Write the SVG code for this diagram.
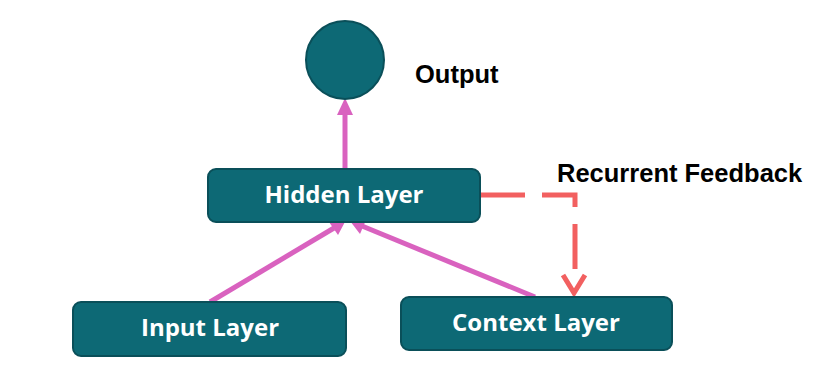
<svg xmlns="http://www.w3.org/2000/svg" width="824" height="375" viewBox="0 0 824 375">
  <defs>
    <style>
      .node { fill: #0d6975; stroke: #0a4f59; stroke-width: 2; }
      .ntext { font-family: "Open Sans", "Lato", sans-serif; font-weight: bold; font-size: 24px; fill: #ffffff; text-anchor: middle; }
      .label { font-family: "Liberation Sans", Arial, sans-serif; font-weight: bold; font-size: 25.5px; fill: #000000; }
      .pink { stroke: #d962bf; stroke-width: 5; fill: none; }
      .red { stroke: #f26060; stroke-width: 5; fill: none; }
    </style>
  </defs>
  <rect width="824" height="375" fill="#ffffff"/>

  <g id="connectors">
    <line class="pink" x1="345" y1="169" x2="345" y2="112"/>
    <path d="M345,98 L353,115 L337,115 Z" fill="#d962bf"/>
    <line class="pink" x1="210" y1="302" x2="334" y2="228"/>
    <path d="M346,220 L338,235 L329,222 Z" fill="#d962bf"/>
    <line class="pink" x1="535" y1="297" x2="362" y2="226"/>
    <path d="M350,221 L366,220 L360,234 Z" fill="#d962bf"/>
    <path class="red" d="M480,195 H575 V270" stroke-dasharray="45 17"/>
    <path class="red" d="M563,275 L574,293 L585,275" stroke-width="6" stroke-linejoin="miter"/>
  </g>

  <g id="output">
    <circle class="node" cx="345" cy="60" r="39"/>
  </g>
  <g id="output-label">
    <text class="label" x="415" y="83">Output</text>
  </g>
  <g id="hidden">
    <rect class="node" x="208" y="169" width="272" height="53" rx="8"/>
    <text class="ntext" x="344" y="203">Hidden Layer</text>
  </g>
  <g id="input">
    <rect class="node" x="73" y="302" width="273" height="54" rx="8"/>
    <text class="ntext" x="210" y="336">Input Layer</text>
  </g>
  <g id="context">
    <rect class="node" x="401" y="297" width="271" height="53" rx="8"/>
    <text class="ntext" x="536" y="331">Context Layer</text>
  </g>
  <g id="feedback-label">
    <text class="label" x="557" y="182">Recurrent Feedback</text>
  </g>
</svg>
